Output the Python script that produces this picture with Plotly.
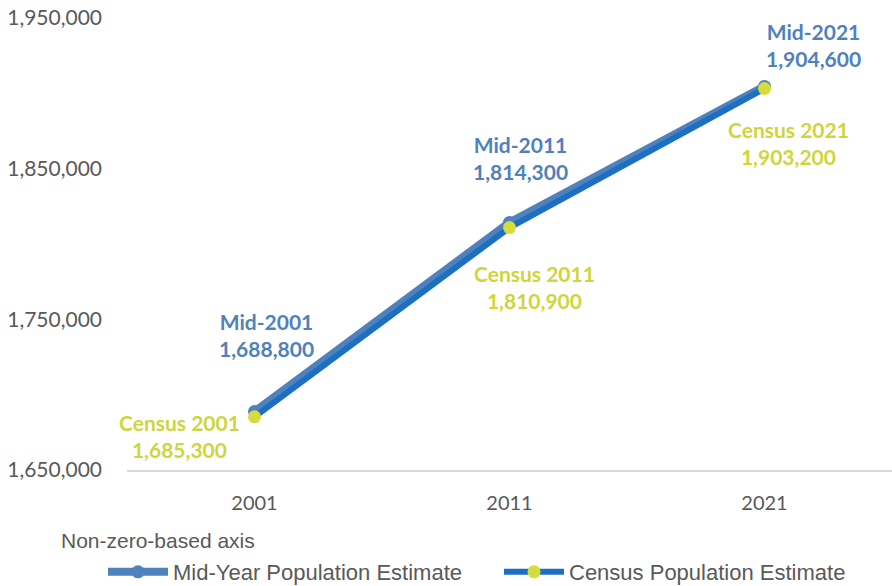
import plotly.graph_objects as go

years = ["2001", "2011", "2021"]
mid_year = [1688800, 1814300, 1904600]
census = [1685300, 1810900, 1903200]
mid_labels = ["Mid-2001", "Mid-2011", "Mid-2021"]
census_labels = ["Census 2001", "Census 2011", "Census 2021"]
y_ticks = [1650000, 1750000, 1850000, 1950000]

BLUE = "#4f81bd"
DARK_BLUE = "#1d6fc2"
GREEN = "#d5dd3c"
GREEN_TXT = "#cdd63a"
FONT = "Lato"
SANS = "Liberation Sans"

fig = go.Figure()
fig.add_trace(go.Scatter(
    x=years, y=mid_year, mode="lines+markers", name="Mid-Year Population Estimate",
    line=dict(color=BLUE, width=8), marker=dict(color=BLUE, size=13), legend="legend",
))
fig.add_trace(go.Scatter(
    x=years, y=census, mode="lines+markers", name="Census Population Estimate",
    line=dict(color=DARK_BLUE, width=6), marker=dict(color=GREEN, size=13), legend="legend2",
))

mid_shift = [(12, 77), (11, 64), (49, 41)]
cen_shift = [(-75, -19), (25, -59), (24, -54)]
for i in range(len(years)):
    fig.add_annotation(x=i, y=mid_year[i], xref="x", yref="y",
                       text=f"<b>{mid_labels[i]}<br>{mid_year[i]:,}</b>", showarrow=False,
                       xshift=mid_shift[i][0], yshift=mid_shift[i][1],
                       font=dict(family=FONT, size=21, color=BLUE), align="center")
    fig.add_annotation(x=i, y=census[i], xref="x", yref="y",
                       text=f"<b>{census_labels[i]}<br>{census[i]:,}</b>", showarrow=False,
                       xshift=cen_shift[i][0], yshift=cen_shift[i][1],
                       font=dict(family=FONT, size=21, color=GREEN_TXT), align="center")

fig.add_annotation(x=(59 - 127) / 765, y=(470 - 540) / 452, xref="paper", yref="paper",
                   text="Non-zero-based axis", showarrow=False,
                   xanchor="left", yanchor="middle",
                   font=dict(family=SANS, size=21, color="#595959"))

legend_common = dict(orientation="h", xanchor="left", xref="container",
                     y=14 / 586, yanchor="middle", yref="container",
                     font=dict(family=SANS, size=22, color="#595959"), itemwidth=60,
                     bgcolor="rgba(0,0,0,0)")

fig.update_layout(
    width=892, height=586, margin=dict(l=127, r=0, t=18, b=116, autoexpand=False),
    paper_bgcolor="white", plot_bgcolor="white",
    font=dict(family=FONT, color="#595959", size=20),
    showlegend=True,
    legend=dict(x=103 / 892, **legend_common),
    legend2=dict(x=499 / 892, **legend_common),
)
fig.update_xaxes(type="category", range=[-0.5, 2.5], showgrid=False, showline=True,
                 linecolor="#d9d9d9", linewidth=1.5, ticks="", tickfont=dict(size=20),
                 ticklabelstandoff=14, automargin=False)
fig.update_yaxes(range=[1650000, 1950000], tickvals=y_ticks,
                 ticktext=[f"{v:,}" for v in y_ticks], showgrid=False, zeroline=False,
                 showline=False, tickfont=dict(size=21), ticklabelstandoff=24,
                 automargin=False)

fig.write_html("out.html", config={"displayModeBar": False},
               post_script="document.body.style.margin='0px';document.body.style.overflow='hidden';")
